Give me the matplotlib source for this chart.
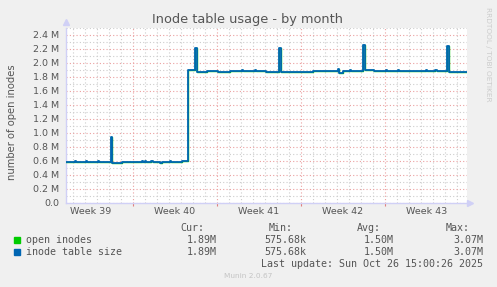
import matplotlib
matplotlib.use('Agg')
import matplotlib.pyplot as plt
from matplotlib.ticker import FuncFormatter, MultipleLocator

# time in days since Mon 29 Sep 2025 00:00 (start of week 40), values = inodes
t_days = [-5.583, -4.833, -4.75, -3.917, -3.833, -2.917, -2.833, -1.833, -1.75, -0.917,
          0.0, 0.75, 0.833, 1.0, 1.083, 1.5, 1.667, 2.25, 2.417, 3.083, 3.167, 4.083,
          4.583, 5.167, 5.292, 6.167, 7.083, 8.083, 9.083, 9.208, 10.167, 10.25,
          11.083, 12.167, 12.292, 14.083, 15.0, 16.083, 16.167, 17.083, 17.208, 17.5,
          18.083, 18.167, 19.167, 19.292, 20.083, 21.083, 21.167, 22.083, 22.167,
          23.083, 23.167, 24.083, 24.417, 24.5, 25.167, 25.333, 26.167, 26.292, 27.833]
inode_table = [586e3, 600e3, 586e3, 600e3, 586e3, 596e3, 586e3, 950e3, 567e3, 586e3,
               592e3, 598e3, 586e3, 600e3, 590e3, 598e3, 592e3, 578e3, 592e3, 600e3, 586e3, 600e3,
               1.895e6, 2.215e6, 1.868e6, 1.886e6, 1.876e6, 1.886e6, 1.893e6, 1.886e6, 1.895e6, 1.886e6,
               1.868e6, 2.215e6, 1.868e6, 1.875e6, 1.886e6, 1.892e6, 1.886e6, 1.908e6, 1.862e6, 1.886e6,
               1.893e6, 1.886e6, 2.257e6, 1.900e6, 1.888e6, 1.895e6, 1.888e6, 1.893e6, 1.884e6,
               1.892e6, 1.886e6, 1.890e6, 1.905e6, 1.888e6, 1.898e6, 1.892e6, 2.243e6, 1.876e6, 1.876e6]
open_inodes = list(inode_table)

week_starts = [0, 7, 14, 21]
week_centers = [-3.5, 3.5, 10.5, 17.5, 24.5]
week_labels = ['Week 39', 'Week 40', 'Week 41', 'Week 42', 'Week 43']

series_names = ['open inodes', 'inode table size']
series_colors = ['#00CC00', '#0066B3']
stat_heads = ['Cur:', 'Min:', 'Avg:', 'Max:']
stat_values = [['1.89M', '575.68k', '1.50M', '3.07M'],
               ['1.89M', '575.68k', '1.50M', '3.07M']]

W, H = 497, 287
TXT = '#555555'


def px(x, y):
    return x / W, 1 - y / H


fig = plt.figure(figsize=(W / 100, H / 100), dpi=100, facecolor='#F0F0F0')
ax = fig.add_axes([66 / W, 1 - 203 / H, (467 - 66) / W, (203 - 28) / H])
ax.set_facecolor('white')

# same values for both series: the green one ends up hidden under the blue one
ax.plot(t_days, open_inodes, drawstyle='steps-post', color=series_colors[0], lw=1.0, zorder=3)
ax.plot(t_days, inode_table, drawstyle='steps-post', color=series_colors[1], lw=1.3, zorder=4)

ax.set_xlim(-5.583, 27.833)
ax.set_ylim(0, 2.5e6)

ax.yaxis.set_major_locator(MultipleLocator(0.2e6))
ax.yaxis.set_minor_locator(MultipleLocator(0.1e6))
ax.yaxis.set_major_formatter(FuncFormatter(lambda v, p: '0.0' if v == 0 else f'{v / 1e6:.1f} M'))
ax.set_xticks(week_starts)
ax.set_xticklabels([])
ax.xaxis.set_minor_locator(MultipleLocator(1))

dot = (0, (1, 2))
ax.grid(which='minor', color='#CDCDCD', lw=0.8, ls=dot)
ax.grid(which='major', color='#EBA0A0', lw=0.8, ls=dot)
ax.set_axisbelow(True)

ax.tick_params(axis='y', which='both', length=0, labelsize=6.8, labelcolor=TXT, pad=5)
ax.tick_params(axis='x', which='minor', length=0)
ax.tick_params(axis='x', which='major', length=2, color='#E08080', labelsize=0)

for s in ['top', 'right']:
    ax.spines[s].set_visible(False)
for s in ['left', 'bottom']:
    ax.spines[s].set_color('#D0D0F6')
    ax.spines[s].set_linewidth(1.0)

# axis arrows
fig.lines.append(plt.Line2D([px(66, 0)[0]], [px(0, 22)[1]], marker='^', ms=5,
                            color='#D0D0F6', transform=fig.transFigure))
fig.lines.append(plt.Line2D([px(470, 0)[0]], [px(0, 203)[1]], marker='>', ms=5,
                            color='#D0D0F6', transform=fig.transFigure))

for c, lab in zip(week_centers, week_labels):
    ax.text(c, -0.025, lab, transform=ax.get_xaxis_transform(), ha='center', va='top',
            fontsize=6.8, color=TXT)

fig.text(*px(248, 19), 'Inode table usage - by month', ha='center', va='center',
         fontsize=9.3, color=TXT)
fig.text(*px(12, 122), 'number of open inodes', rotation=90, ha='center', va='center',
         fontsize=7.2, color=TXT)
fig.text(*px(488, 54), 'RRDTOOL / TOBI OETIKER', rotation=270, ha='center', va='center',
         fontsize=5.3, color='#CCCCCC')

mono = 'DejaVu Sans Mono'
head_right = [204, 293, 381, 470]
val_right = [217, 306, 394, 483]
for xr, h in zip(head_right, stat_heads):
    fig.text(*px(xr, 228), h, ha='right', va='center', fontsize=7.2, family=mono, color=TXT)
for i, (name, col) in enumerate(zip(series_names, series_colors)):
    y = 240 + 12 * i
    fig.patches.append(plt.Rectangle(px(14, y + 3), 6 / W, 6 / H, color=col,
                                     transform=fig.transFigure))
    fig.text(*px(26, y), name, ha='left', va='center', fontsize=7.2, family=mono, color=TXT)
    for xr, v in zip(val_right, stat_values[i]):
        fig.text(*px(xr, y), v, ha='right', va='center', fontsize=7.2, family=mono, color=TXT)
fig.text(*px(483, 264), 'Last update: Sun Oct 26 15:00:26 2025', ha='right', va='center',
         fontsize=7.2, family=mono, color=TXT)
fig.text(*px(248, 276), 'Munin 2.0.67', ha='center', va='center', fontsize=5.3, color='#C4C4C4')

fig.savefig('out.png', dpi=100, facecolor=fig.get_facecolor())
